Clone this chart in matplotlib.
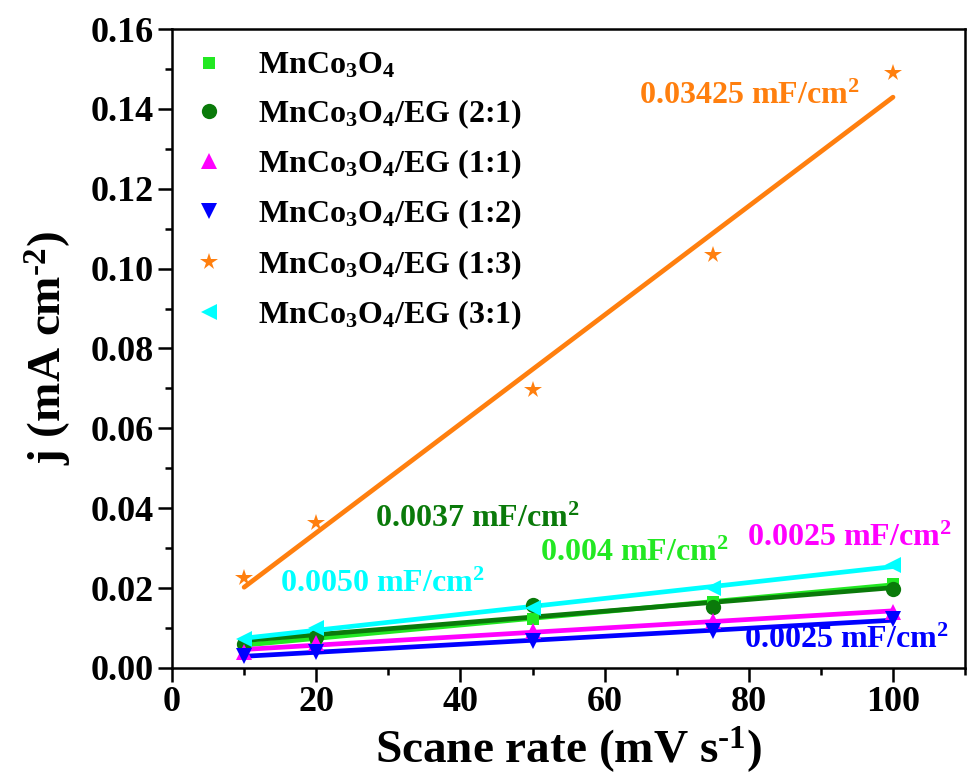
import numpy as np
import matplotlib
matplotlib.use("Agg")
import matplotlib.pyplot as plt
from matplotlib.ticker import MultipleLocator, FormatStrFormatter

plt.rcParams['font.family'] = ['Liberation Serif', 'DejaVu Serif']
plt.rcParams['font.weight'] = 'bold'
plt.rcParams['mathtext.fontset'] = 'custom'
plt.rcParams['mathtext.rm'] = 'Liberation Serif:bold'
plt.rcParams['mathtext.it'] = 'Liberation Serif:bold'
plt.rcParams['mathtext.bf'] = 'Liberation Serif:bold'

scan_rate = [10, 20, 50, 75, 100]

labels = [r'MnCo$_3$O$_4$', r'MnCo$_3$O$_4$/EG (2:1)', r'MnCo$_3$O$_4$/EG (1:1)',
          r'MnCo$_3$O$_4$/EG (1:2)', r'MnCo$_3$O$_4$/EG (1:3)', r'MnCo$_3$O$_4$/EG (3:1)']

j_mnco = [0.0058, 0.0075, 0.0122, 0.0165, 0.0210]
j_eg21 = [0.0060, 0.0078, 0.0158, 0.0152, 0.0197]
j_eg11 = [0.0040, 0.0062, 0.0092, 0.0118, 0.0140]
j_eg12 = [0.0030, 0.0040, 0.0068, 0.0092, 0.0122]
j_eg13 = [0.0225, 0.0363, 0.0695, 0.1033, 0.1490]
j_eg31 = [0.0073, 0.0100, 0.0150, 0.0200, 0.0258]

cap_texts = ['0.004', '0.0037', '0.0025', '0.0025', '0.03425', '0.0050']

series = [j_mnco, j_eg21, j_eg11, j_eg12, j_eg13, j_eg31]
colors = ['#22E822', '#0A7A0A', '#FF00FF', '#0000FF', '#FF7F0E', '#00FFFF']
markers = ['s', 'o', '^', 'v', '*', '<']
msizes = [9, 11, 11, 11, 13, 11]

fig = plt.figure(figsize=(9.68, 7.84), dpi=100)
ax = fig.add_axes([0.1777, 0.148, 0.8193, 0.815])

handles = []
for ys, c, m, ms, lab in zip(series, colors, markers, msizes, labels):
    h, = ax.plot(scan_rate, ys, linestyle='none', marker=m, color=c, markersize=ms,
                 markeredgewidth=0, label=lab, zorder=3)
    handles.append(h)
    k, b = np.polyfit(scan_rate, ys, 1)
    xs = np.array([scan_rate[0], scan_rate[-1]])
    ax.plot(xs, k * xs + b, color=c, lw=3.4, solid_capstyle='round', zorder=2)

# capacitance annotations (data coords, left/baseline)
ann_pos = [(51.0, 0.0268), (28.2, 0.0352), (79.8, 0.0306), (79.4, 0.0050), (64.8, 0.1413), (15.0, 0.0190)]
fs_ann = 23
for (xa, ya), t, c in zip(ann_pos, cap_texts, colors):
    ax.text(xa, ya, t + r' mF/cm$^{2}$', color=c, fontsize=fs_ann, fontweight='bold',
            ha='left', va='baseline')

ax.set_xlim(0, 110)
ax.set_ylim(0, 0.16)
ax.xaxis.set_major_locator(MultipleLocator(20))
ax.xaxis.set_minor_locator(MultipleLocator(10))
ax.yaxis.set_major_locator(MultipleLocator(0.02))
ax.yaxis.set_minor_locator(MultipleLocator(0.01))
ax.yaxis.set_major_formatter(FormatStrFormatter('%.2f'))
ax.tick_params(which='major', direction='out', length=10, width=1.8, labelsize=26, pad=3)
ax.tick_params(which='minor', direction='out', length=5, width=1.8)
ax.tick_params(top=False, right=False, which='both')
for s in ax.spines.values():
    s.set_linewidth(1.8)
for lab in ax.get_xticklabels() + ax.get_yticklabels():
    lab.set_fontweight('bold')

ax.set_xlabel(r'Scane rate (mV s$^{\text{-1}}$)', fontsize=34, fontweight='bold', labelpad=4)
ax.set_ylabel(r'j (mA cm$^{\text{-2}}$)', fontsize=34, fontweight='bold', labelpad=12)

leg = ax.legend(handles=handles, loc='upper left', frameon=False, fontsize=23,
                handlelength=0.9, handletextpad=1.1, labelspacing=0.52,
                borderaxespad=0.3, bbox_to_anchor=(0.0, 1.0))

fig.savefig('out.png', dpi=100)
